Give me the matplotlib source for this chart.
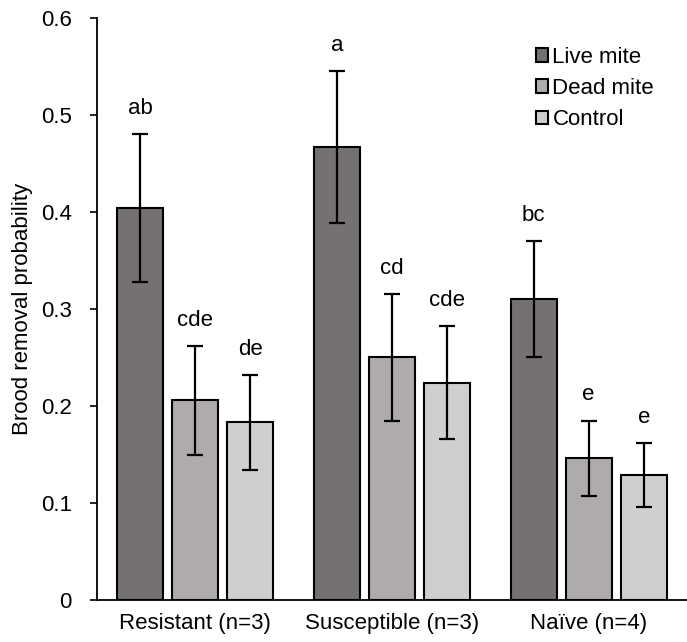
import matplotlib.pyplot as plt
import numpy as np

plt.rcParams['font.family'] = ['Liberation Sans', 'DejaVu Sans']

# Dane
groups = ["Resistant (n=3)", "Susceptible (n=3)", "Naïve (n=4)"]
series = ["Live mite", "Dead mite", "Control"]
live = [0.404, 0.467, 0.310]
dead = [0.206, 0.250, 0.146]
control = [0.183, 0.224, 0.129]
live_err = [0.076, 0.078, 0.060]
dead_err = [0.056, 0.065, 0.039]
control_err = [0.049, 0.058, 0.033]
letters_live = ["ab", "a", "bc"]
letters_dead = ["cde", "cd", "e"]
letters_control = ["de", "cde", "e"]

colors = ['#767171', '#AFABAB', '#D0CECE']
fs = 16

fig = plt.figure(figsize=(6.87, 6.42), dpi=100)
ax = fig.add_axes([0.141, 0.0654, 0.859, 0.9066])

x = np.arange(len(groups))
width = 0.234
offset = 0.28

data = [(live, live_err, letters_live), (dead, dead_err, letters_dead),
        (control, control_err, letters_control)]

for i, (vals, errs, letters) in enumerate(data):
    pos = x + (i - 1) * offset
    ax.bar(pos, vals, width, color=colors[i], edgecolor='black', linewidth=1.5,
           label=series[i], zorder=2)
    ax.errorbar(pos, vals, yerr=errs, fmt='none', ecolor='black', elinewidth=1.6,
                capsize=5.5, capthick=1.6, zorder=3)
    for p, v, e, t in zip(pos, vals, errs, letters):
        ax.annotate(t, (p, v + e), xytext=(0, 18.5), textcoords='offset points',
                    ha='center', va='center', fontsize=fs)

ax.set_xlim(-0.5, 2.5)
ax.set_ylim(0, 0.6)
ax.set_yticks(np.arange(0, 0.61, 0.1))
ax.set_yticklabels(['0', '0.1', '0.2', '0.3', '0.4', '0.5', '0.6'])
ax.set_xticks(x)
ax.set_xticklabels(groups)
ax.tick_params(axis='y', direction='out', length=5, width=1.2, labelsize=fs, pad=13)
ax.tick_params(axis='x', length=0, labelsize=fs, pad=9)
ax.set_ylabel("Brood removal probability", fontsize=fs, labelpad=6)

for s in ['top', 'right']:
    ax.spines[s].set_visible(False)
for s in ['left', 'bottom']:
    ax.spines[s].set_linewidth(1.3)

ax.legend(loc='upper right', bbox_to_anchor=(0.978, 0.985), frameon=False, fontsize=fs,
          handlelength=0.55, handleheight=0.55, handletextpad=0.2, labelspacing=0.46)

fig.savefig("out.png", dpi=100)
